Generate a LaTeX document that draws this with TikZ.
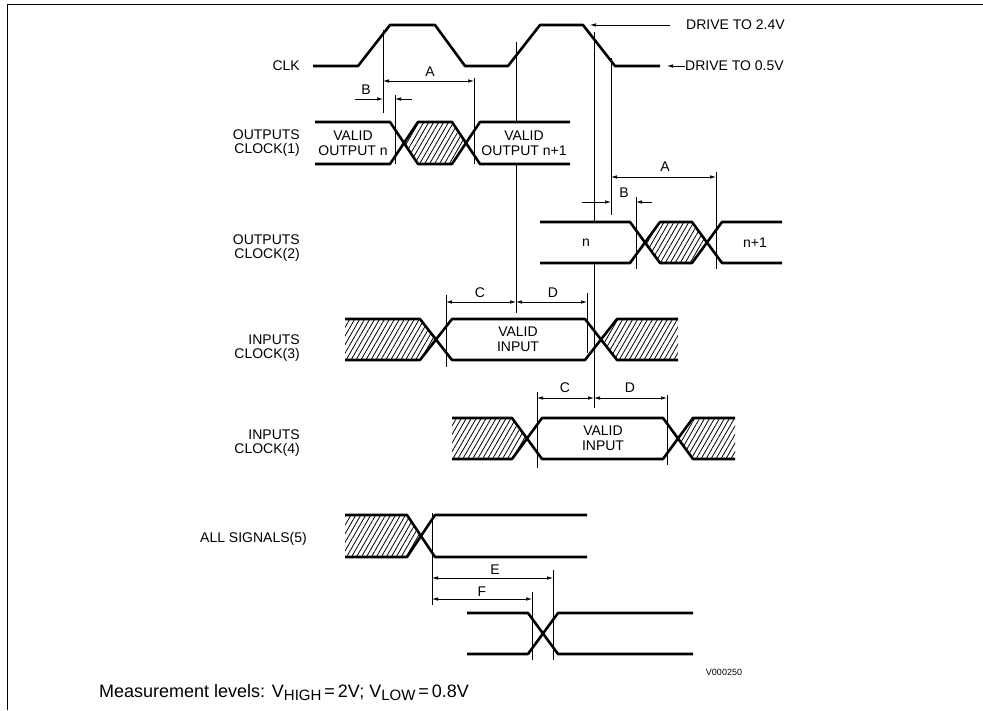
\documentclass[tikz,border=0pt]{standalone}
\usepackage{fontspec}
\setmainfont{Liberation Sans}
\usetikzlibrary{arrows.meta,patterns.meta}
\begin{document}
\begin{tikzpicture}[x=1pt,y=-1pt,
  sig/.style={line width=2.6pt, line join=round},
  dimline/.style={line width=0.7pt},
  dimarr/.style={line width=0.7pt, {Latex[length=6pt,width=3.5pt]}-{Latex[length=6pt,width=3.5pt]}},
  onearr/.style={line width=0.7pt, -{Latex[length=6pt,width=3.5pt]}},
  hatch/.style={pattern={Lines[angle=60,distance=4.3pt,line width=0.8pt]}},
  lbl/.style={font=\fontsize{14}{13.5}\selectfont, inner sep=0pt, align=right, anchor=east},
  intext/.style={font=\fontsize{14}{15}\selectfont, inner sep=0pt, align=center},
  dimtext/.style={font=\fontsize{14}{14}\selectfont, inner sep=0pt}]
\useasboundingbox (0,0) rectangle (983,710);
% frame
\draw[line width=1pt] (7,710) -- (7,4) -- (983,4);

% ---------- labels ----------
\node[lbl] (lclk) at (300,66) {CLK};
\node[lbl] (lo1) at (300,143) {OUTPUTS\\CLOCK(1)};
\node[lbl] (lo2) at (300,248) {OUTPUTS\\CLOCK(2)};
\node[lbl] (li3) at (300,348) {INPUTS\\CLOCK(3)};
\node[lbl] (li4) at (300,443) {INPUTS\\CLOCK(4)};
\node[lbl] (lall) at (307,539) {ALL SIGNALS(5)};

% ---------- CLK ----------
\draw[sig] (313,66) -- (358,66) -- (390,25) -- (435,25) -- (465,66) -- (508,66)
  -- (540,25) -- (583,25) -- (615,66) -- (660,66);
\node[dimtext, anchor=west] (d24) at (686,25) {DRIVE TO 2.4V};
\node[dimtext, anchor=west] (d05) at (685,66) {DRIVE TO 0.5V};
\coordinate (d24t) at (590,25);
\coordinate (d05t) at (667,66);
\draw[onearr] (d24.west) ++(-16,0) -- (d24t);
\draw[onearr] (d05.west) -- (d05t);

% ---------- OUTPUTS CLOCK(1) ----------
\fill[hatch] (404,143) -- (418,122) -- (452,122) -- (466,143) -- (452,164) -- (418,164) -- cycle;
\draw[sig] (315,122) -- (390,122) -- (418,164) -- (452,164) -- (480,122) -- (570,122);
\draw[sig] (315,164) -- (390,164) -- (418,122) -- (452,122) -- (480,164) -- (570,164);
\node[intext] (vo1) at (353,143) {VALID\\OUTPUT n};
\node[intext] (vo2) at (524,143) {VALID\\OUTPUT n+1};

% ---------- OUTPUTS CLOCK(2) ----------
\fill[hatch] (645,242.5) -- (660,222) -- (692,222) -- (707,242.5) -- (692,263) -- (660,263) -- cycle;
\draw[sig] (540,222) -- (630,222) -- (660,263) -- (692,263) -- (722,222) -- (782,222);
\draw[sig] (540,263) -- (630,263) -- (660,222) -- (692,222) -- (722,263) -- (782,263);
\node[intext] (o2n) at (586,243) {n};
\node[intext] (o2n1) at (755,243) {n+1};

% ---------- INPUTS CLOCK(3) ----------
\fill[hatch] (345,319) -- (420,319) -- (436,339.5) -- (420,360) -- (345,360) -- cycle;
\fill[hatch] (678,319) -- (617,319) -- (601,339.5) -- (617,360) -- (678,360) -- cycle;
\draw[sig] (345,319) -- (420,319) -- (452,360) -- (585,360) -- (617,319) -- (678,319);
\draw[sig] (345,360) -- (420,360) -- (452,319) -- (585,319) -- (617,360) -- (678,360);
\node[intext] (vi3) at (518,339) {VALID\\INPUT};

% ---------- INPUTS CLOCK(4) ----------
\fill[hatch] (452,418) -- (512,418) -- (527,438.5) -- (512,459) -- (452,459) -- cycle;
\fill[hatch] (735,418) -- (693,418) -- (678,438.5) -- (693,459) -- (735,459) -- cycle;
\draw[sig] (452,418) -- (512,418) -- (542,459) -- (663,459) -- (693,418) -- (735,418);
\draw[sig] (452,459) -- (512,459) -- (542,418) -- (663,418) -- (693,459) -- (735,459);
\node[intext] (vi4) at (603,438) {VALID\\INPUT};

% ---------- ALL SIGNALS(5) ----------
\fill[hatch] (345,515) -- (407,515) -- (421,536) -- (407,557) -- (345,557) -- cycle;
\draw[sig] (345,515) -- (407,515) -- (435,557) -- (587,557);
\draw[sig] (345,557) -- (407,557) -- (435,515) -- (587,515);
\draw[sig] (467,613) -- (528,613) -- (558,654) -- (693,654);
\draw[sig] (467,654) -- (528,654) -- (558,613) -- (693,613);

% ---------- vertical reference lines ----------
\draw[dimline] (383,30) -- (383,113);
\draw[dimline] (474,78) -- (474,164);
\draw[dimline] (395,95) -- (395,164);
\draw[dimline] (516,42) -- (516,122);
\draw[dimline] (516,164) -- (516,313);
\draw[dimline] (594,32) -- (594,222);
\draw[dimline] (594,263) -- (594,408);
\draw[dimline] (611,58) -- (611,215);
\draw[dimline] (716,172) -- (716,269);
\draw[dimline] (636,197) -- (636,269);
\draw[dimline] (446,295) -- (446,367);
\draw[dimline] (587,293) -- (587,353);
\draw[dimline] (537,392) -- (537,468);
\draw[dimline] (667,395) -- (667,465);
\draw[dimline] (432,513) -- (432,605);
\draw[dimline] (553,570) -- (553,660);
\draw[dimline] (532,592) -- (532,660);

% ---------- dimensions ----------
\draw[dimarr] (383,81) -- (474,81);
\node[dimtext] (tA1) at (430,72) {A};
\draw[onearr] (355,99) -- (383,99);
\draw[onearr] (412,99) -- (395,99);
\node[dimtext] (tB1) at (366,90) {B};

\draw[dimarr] (611,177) -- (716,177);
\node[dimtext] (tA2) at (665,167) {A};
\draw[onearr] (582,202) -- (611,202);
\draw[onearr] (652,202) -- (636,202);
\node[dimtext] (tB2) at (624,193) {B};

\draw[dimarr] (446,302) -- (516,302);
\node[dimtext] (tC1) at (480,293) {C};
\draw[dimarr] (516,302) -- (587,302);
\node[dimtext] (tD1) at (553,293) {D};

\draw[dimarr] (537,398) -- (594,398);
\node[dimtext] (tC2) at (565,388) {C};
\draw[dimarr] (594,398) -- (667,398);
\node[dimtext] (tD2) at (630,388) {D};

\draw[dimarr] (432,578) -- (553,578);
\node[dimtext] (tE) at (495,570) {E};
\draw[dimarr] (432,599) -- (532,599);
\node[dimtext] (tF) at (482,592) {F};

% ---------- footer ----------
\node[font=\fontsize{9}{9}\selectfont, inner sep=0pt] (code) at (724,672) {V000250};
\node[font=\fontsize{18}{18}\selectfont, inner sep=0pt, anchor=base west] (meas) at (99,697)
  {Measurement levels: V\raisebox{-3.5pt}{\fontsize{15}{15}\selectfont HIGH}\,=\,2V; V\raisebox{-3.5pt}{\fontsize{15}{15}\selectfont LOW}\,=\,0.8V};
\end{tikzpicture}
\end{document}
